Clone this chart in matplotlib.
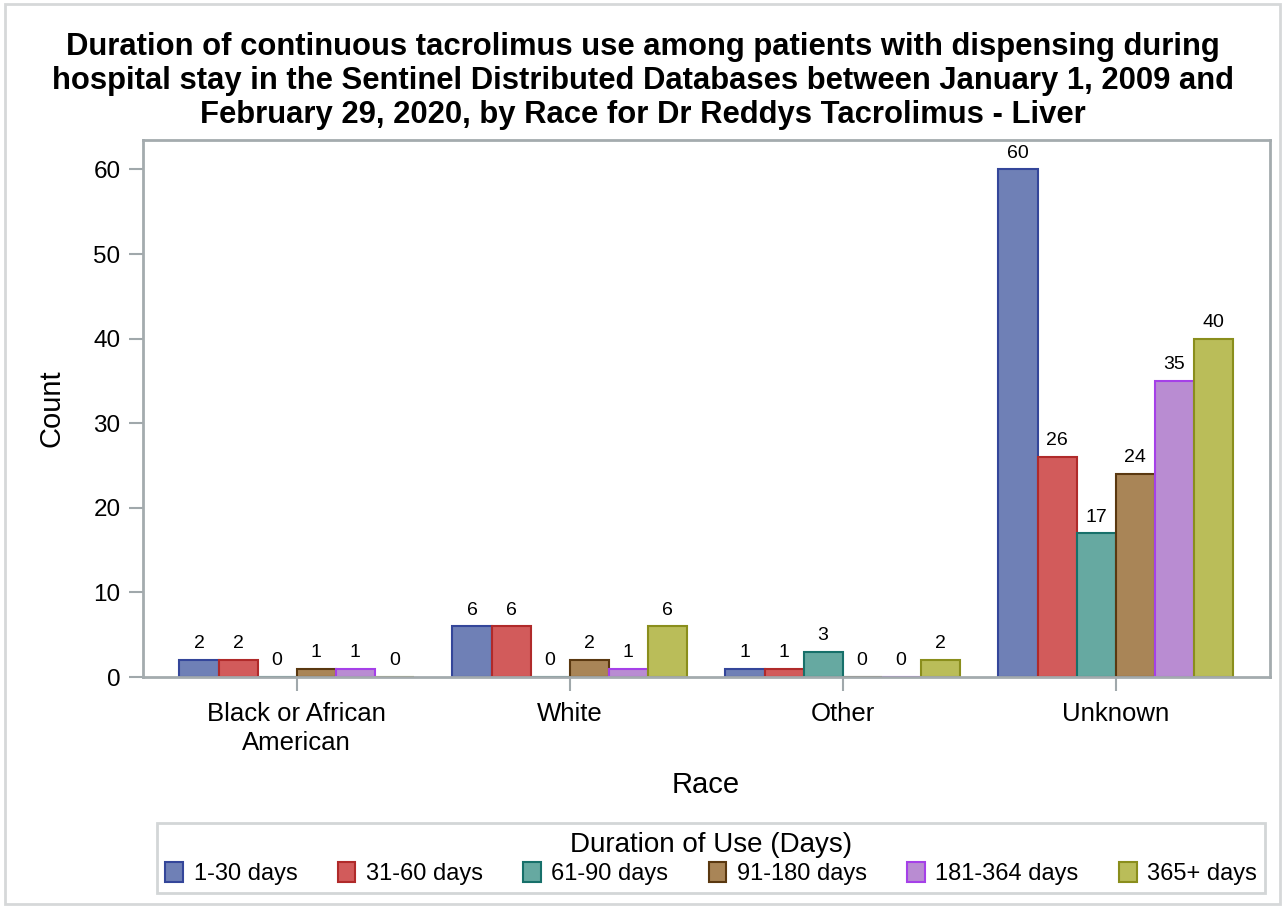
import numpy as np
import matplotlib.pyplot as plt
from matplotlib.patches import Rectangle

plt.rcParams['font.family'] = ['Liberation Sans', 'DejaVu Sans']

# data
races = ['Black or African\nAmerican', 'White', 'Other', 'Unknown']
durations = ['1-30 days', '31-60 days', '61-90 days', '91-180 days', '181-364 days', '365+ days']
counts = [
    [2, 6, 1, 60],    # 1-30 days
    [2, 6, 1, 26],    # 31-60 days
    [0, 0, 3, 17],    # 61-90 days
    [1, 2, 0, 24],    # 91-180 days
    [1, 1, 0, 35],    # 181-364 days
    [0, 6, 2, 40],    # 365+ days
]

fills = ['#6f80b6', '#d25b5b', '#66a9a1', '#a98557', '#b98cd2', '#babd59']
edges = ['#34469a', '#b02a2a', '#17706a', '#5a3810', '#a540e8', '#8a8e1c']

fig = plt.figure(figsize=(12.85, 9.08), dpi=100)
ax = fig.add_axes([0.111, 0.2544, 0.877, 0.5916])

x = np.arange(len(races))
w = 0.143
for i in range(len(durations)):
    pos = x + (i - 2.5) * w
    ax.bar(pos, counts[i], width=w, color=fills[i], edgecolor=edges[i],
           linewidth=1.5, label=durations[i], zorder=2)
    for px, v in zip(pos, counts[i]):
        ax.text(px, v + 0.9, str(v), ha='center', va='bottom', fontsize=14)

ax.set_xlim(-0.564, 3.564)
ax.set_ylim(0, 63.5)
ax.set_yticks(range(0, 61, 10))
ax.set_xticks(x)
ax.set_xticklabels(races, fontsize=18.5, linespacing=1.25)
ax.tick_params(axis='y', labelsize=17.5, color='#a0a8ab', width=1.5, length=10, pad=6)
ax.tick_params(axis='x', color='#a0a8ab', width=1.5, length=10, pad=8)
for s in ax.spines.values():
    s.set_color('#a4abae')
    s.set_linewidth(2)

ax.set_xlabel('Race', fontsize=21, labelpad=12)
ax.set_ylabel('Count', fontsize=21, labelpad=20)

fig.suptitle('Duration of continuous tacrolimus use among patients with dispensing during\n'
             'hospital stay in the Sentinel Distributed Databases between January 1, 2009 and\n'
             'February 29, 2020, by Race for Dr Reddys Tacrolimus - Liver',
             fontsize=22.3, fontweight='bold', y=0.965, linespacing=1.17)

leg = fig.legend(loc='lower center', bbox_to_anchor=(0.5535, 0.003), ncol=6,
                 title='Duration of Use (Days)', fontsize=17, title_fontsize=20,
                 frameon=True, fancybox=False, handlelength=0.75, handleheight=0.9,
                 handletextpad=0.45, columnspacing=1.7, borderpad=0.35, labelspacing=0.2)
leg.get_frame().set_edgecolor('#c8cccd')
leg.get_frame().set_linewidth(2)

fig.patches.append(Rectangle((0.004, 0.004), 0.992, 0.992, transform=fig.transFigure,
                             fill=False, edgecolor='#d6d8d9', linewidth=2))

fig.savefig('out.png', dpi=100)
